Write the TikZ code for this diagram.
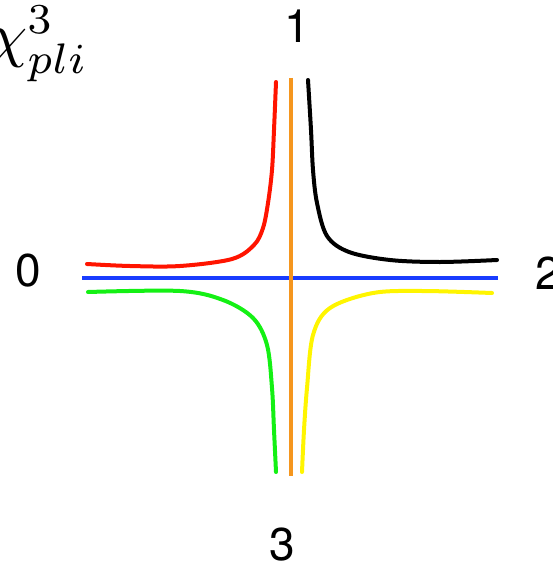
\documentclass[tikz,border=0pt]{standalone}
\usepackage{fontspec}
\newfontfamily\hv{TeX Gyre Heros}
\definecolor{cred}{RGB}{255,20,0}
\definecolor{cgreen}{RGB}{20,240,20}
\definecolor{cyellow}{RGB}{255,245,0}
\definecolor{corange}{RGB}{245,150,30}
\definecolor{cblue}{RGB}{25,60,255}
\tikzset{
  curve/.style={line width=4pt, line cap=round, line join=round},
  axis/.style={line width=3.8pt},
  lbl/.style={inner sep=0pt, font=\hv\fontsize{46}{50}\selectfont}
}
\begin{document}
\begin{tikzpicture}[x=1pt,y=-1pt]
\useasboundingbox (0,0) rectangle (552,564);
% axes
\coordinate (bl) at (82,278);
\coordinate (br) at (498,278);
\coordinate (ot) at (291,78);
\coordinate (ob) at (291,476);
\draw[axis, cblue] (bl) -- (br);
\draw[axis, corange] (ot) -- (ob);
% curves
\draw[curve, cred] plot[smooth, tension=0.55] coordinates {(276,82) (274,130) (272,170) (268,203) (263,228) (254,245) (232,259) (180,266) (130,266) (87,264)};
\draw[curve, black] plot[smooth, tension=0.55] coordinates {(308,80) (311,130) (313,170) (317,203) (327,236) (349,252) (390,260) (440,262) (497,260)};
\draw[curve, cgreen] plot[smooth, tension=0.55] coordinates {(88,292) (180,291) (223,300) (253,318) (267,345) (272,388) (274,430) (276,472)};
\draw[curve, cyellow] plot[smooth, tension=0.55] coordinates {(492,293) (423,291) (373,293) (330,308) (313,335) (307,388) (304,430) (302,472)};
% labels
\node[lbl] (l1) at (297,26) {1};
\node[lbl] (l0) at (28.5,270.5) {0};
\node[lbl] (l2) at (548,273) {2};
\node[lbl] (l3) at (282,545) {3};
\node[inner sep=0pt, anchor=base west] (chi) at (-11,56) {\scalebox{6.1}{$\chi^3_{pli}$}};
\end{tikzpicture}
\end{document}
